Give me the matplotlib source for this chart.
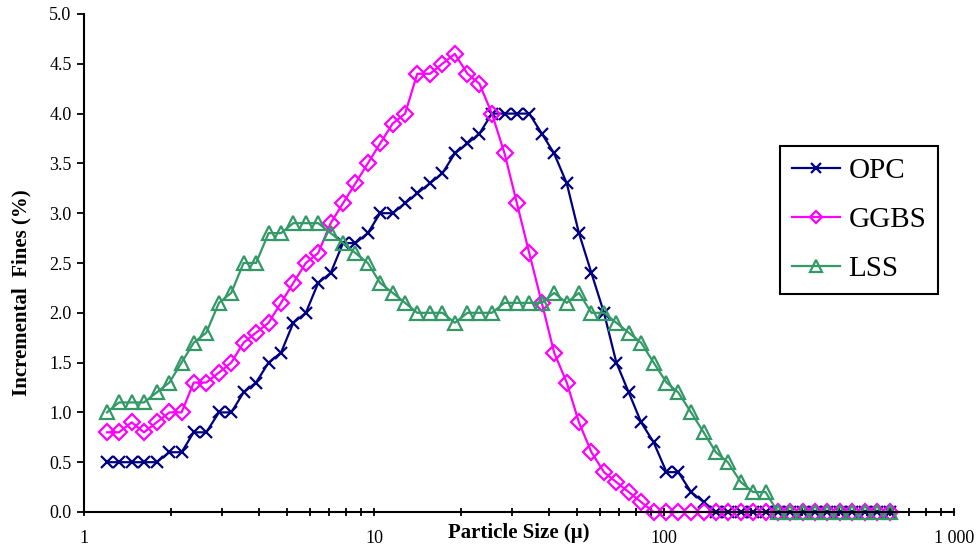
import matplotlib
matplotlib.use('Agg')
import matplotlib.pyplot as plt
from matplotlib.ticker import FixedLocator, LogLocator, NullFormatter, FormatStrFormatter

# particle size classes (micron)
sizes = [1.20, 1.32, 1.46, 1.61, 1.78, 1.97, 2.17, 2.39, 2.64, 2.92,
         3.22, 3.55, 3.92, 4.33, 4.78, 5.27, 5.82, 6.42, 7.09, 7.82,
         8.63, 9.52, 10.5, 11.6, 12.8, 14.1, 15.6, 17.2, 19.0, 21.0,
         23.1, 25.5, 28.2, 31.1, 34.3, 37.9, 41.8, 46.2, 50.9, 56.2,
         62.1, 68.5, 75.6, 83.4, 92.1, 102, 112, 124, 137, 151,
         166, 184, 203, 224, 247, 273, 301, 332, 366, 405,
         446, 493, 544, 600]

opc = [0.5, 0.5, 0.5, 0.5, 0.5, 0.6, 0.6, 0.8, 0.8, 1.0, 1.0, 1.2, 1.3,
       1.5, 1.6, 1.9, 2.0, 2.3, 2.4, 2.7, 2.7, 2.8, 3.0, 3.0, 3.1, 3.2, 3.3,
       3.4, 3.6, 3.7, 3.8, 4.0, 4.0, 4.0, 4.0, 3.8, 3.6, 3.3, 2.8, 2.4,
       2.0, 1.5, 1.2, 0.9, 0.7, 0.4, 0.4, 0.2, 0.1,
       0, 0, 0, 0, 0, 0, 0, 0, 0, 0, 0, 0, 0, 0, 0]

ggbs = [0.8, 0.8, 0.9, 0.8, 0.9, 1.0, 1.0, 1.3, 1.3,
        1.4, 1.5, 1.7, 1.8,
        1.9, 2.1, 2.3, 2.5, 2.6, 2.9, 3.1, 3.3,
        3.5, 3.7, 3.9, 4.0,
        4.4, 4.4, 4.5, 4.6, 4.4, 4.3, 4.0, 3.6, 3.1, 2.6, 2.1,
        1.6, 1.3, 0.9, 0.6, 0.4, 0.3, 0.2, 0.1,
        0, 0, 0, 0, 0, 0, 0, 0, 0, 0, 0, 0, 0, 0, 0, 0, 0, 0, 0, 0]

lss = [1.0, 1.1, 1.1, 1.1, 1.2, 1.3,
       1.5, 1.7, 1.8, 2.1, 2.2, 2.5, 2.5,
       2.8, 2.8, 2.9, 2.9, 2.9, 2.8, 2.7, 2.6, 2.5, 2.3, 2.2, 2.1,
       2.0, 2.0, 2.0, 1.9, 2.0, 2.0, 2.0, 2.1, 2.1, 2.1, 2.1, 2.2, 2.1, 2.2,
       2.0, 2.0, 1.9, 1.8, 1.7, 1.5, 1.3, 1.2, 1.0, 0.8, 0.6, 0.5, 0.3, 0.2, 0.2,
       0, 0, 0, 0, 0, 0, 0, 0, 0, 0]

xticks = [1, 10, 100, 1000]
xticklabels = ['1', '10', '100', '1 000']

plt.rcParams['font.family'] = ['Liberation Serif', 'DejaVu Serif']

fig = plt.figure(figsize=(9.77, 5.52), dpi=100)
ax = fig.add_axes([84/977, 1 - 512/552, 870/977, 498/552])

ax.plot(sizes, opc, color='#000080', lw=1.6, marker='x', ms=9, mew=1.6,
        label='OPC', clip_on=False)
ax.plot(sizes, ggbs, color='#FF00FF', lw=1.6, marker='D', ms=8, mew=1.6,
        mfc='none', label='GGBS', clip_on=False)
ax.plot(sizes, lss, color='#339966', lw=1.6, marker='^', ms=10, mew=1.6,
        mfc='none', label='LSS', clip_on=False)

ax.set_xscale('log')
ax.set_xlim(1, 1000)
ax.set_ylim(0, 5.0)
ax.set_yticks([i * 0.5 for i in range(11)])
ax.yaxis.set_major_formatter(FormatStrFormatter('%.1f'))
ax.xaxis.set_major_locator(FixedLocator(xticks))
ax.set_xticklabels(xticklabels)
ax.xaxis.set_minor_locator(LogLocator(base=10, subs=range(2, 10)))
ax.xaxis.set_minor_formatter(NullFormatter())

for s in ['top', 'right']:
    ax.spines[s].set_visible(False)
for s in ['left', 'bottom']:
    ax.spines[s].set_linewidth(1.5)

ax.tick_params(axis='x', which='both', direction='inout', length=6, width=1.3,
               labelsize=13, pad=10)
ax.tick_params(axis='y', direction='out', length=5, width=1.3, labelsize=13, pad=4)

ax.set_xlabel('Particle Size (\u03bc)', fontsize=15, fontweight='bold')
ax.xaxis.set_label_coords(0.5, -0.022)
ax.set_ylabel('Incremental  Fines (%)', fontsize=15, fontweight='bold')
ax.yaxis.set_label_coords(-0.06, 0.44)

leg = ax.legend(loc='upper left', bbox_to_anchor=(780/977, 1 - 146/552),
                bbox_transform=fig.transFigure, borderaxespad=0,
                fontsize=21, frameon=True, fancybox=False, framealpha=1,
                edgecolor='black', handlelength=1.65, handletextpad=0.3,
                labelspacing=0.78, borderpad=0.4, markerscale=0.8)
leg.get_frame().set_linewidth(1.5)

fig.savefig('out.png', dpi=100)
